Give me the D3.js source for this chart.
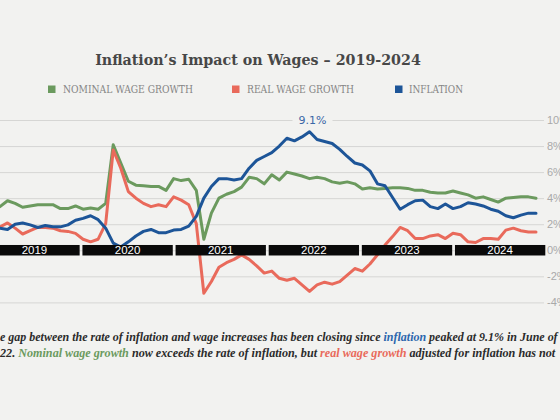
<!DOCTYPE html>
<html><head><meta charset="utf-8">
<script src="https://cdn.jsdelivr.net/npm/d3@7"></script>
<style>html,body{margin:0;padding:0;background:#f2f2f0;overflow:hidden}svg{display:block}</style>
</head><body>
<svg id="chart" width="560" height="420"></svg>
<script>
// ---- data (monthly, Jan 2019 – Dec 2024, percent y/y) ----
const years = ["2019", "2020", "2021", "2022", "2023", "2024"];
const nominalWage = [
  3.35, 3.8, 3.6, 3.3, 3.4, 3.5, 3.5, 3.5, 3.2, 3.2, 3.4, 3.15,
  3.25, 3.15, 3.6, 8.1, 6.7, 5.3, 5.0, 4.95, 4.9, 4.9, 4.6, 5.5,
  5.35, 5.45, 4.6, 0.85, 2.85, 4.0, 4.3, 4.5, 4.85, 5.6, 5.5, 5.1,
  5.8, 5.4, 6.0, 5.85, 5.7, 5.5, 5.6, 5.5, 5.25, 5.15, 5.25, 5.1,
  4.7, 4.8, 4.7, 4.75, 4.8, 4.8, 4.75, 4.6, 4.6, 4.45, 4.4, 4.4,
  4.55, 4.4, 4.25, 4.0, 4.1, 3.9, 3.7, 4.0, 4.05, 4.1, 4.1, 4.0
];
const realWage = [
  1.8, 2.1, 1.7, 1.25, 1.5, 1.75, 1.75, 1.7, 1.5, 1.45, 1.3, 0.85,
  0.65, 0.85, 2.05, 7.7, 6.3, 4.5, 4.0, 3.6, 3.35, 3.5, 3.35, 4.1,
  3.85, 3.5, 2.05, -3.3, -2.4, -1.3, -0.95, -0.7, -0.35, -0.7, -1.2, -1.75,
  -1.6, -2.15, -2.3, -2.15, -2.65, -3.15, -2.65, -2.45, -2.6, -2.4, -1.9, -1.4,
  -1.6, -1.05, -0.35, 0.4, 1.05, 1.75, 1.5, 0.9, 0.9, 1.1, 1.2, 0.9,
  1.3, 1.2, 0.65, 0.6, 0.9, 0.9, 0.85, 1.55, 1.7, 1.5, 1.4, 1.4
];
const inflation = [
  1.7, 1.6, 2.0, 2.1, 1.95, 1.75, 1.9, 1.8, 1.8, 1.95, 2.3, 2.45,
  2.65, 2.35, 1.7, 0.55, 0.25, 0.65, 1.1, 1.45, 1.6, 1.35, 1.35, 1.55,
  1.6, 1.85, 2.6, 4.0, 4.9, 5.5, 5.5, 5.4, 5.5, 6.3, 6.9, 7.2,
  7.5, 8.0, 8.6, 8.4, 8.7, 9.1, 8.5, 8.35, 8.2, 7.75, 7.2, 6.7,
  6.55, 6.1, 5.1, 4.95, 4.05, 3.15, 3.5, 3.8, 3.85, 3.35, 3.2, 3.55,
  3.2, 3.35, 3.65, 3.55, 3.4, 3.15, 3.0, 2.65, 2.5, 2.7, 2.85, 2.85
];
const yTicks = [-4, -2, 2, 4, 6, 8, 10];
const peakLabel = "9.1%";
const seriesNames = ["NOMINAL WAGE GROWTH", "REAL WAGE GROWTH", "INFLATION"];
const titleText = "Inflation\u2019s Impact on Wages \u2013 2019-2024";

const C = {green: "#6b9a5e", red: "#e96a5b", blue: "#1d5598", bg: "#f2f2f0"};
const svg = d3.select("#chart");
svg.append("rect").attr("width", 560).attr("height", 420).attr("fill", C.bg);

const x = d3.scaleLinear().domain([0, 71]).range([0, 536]);
const y = d3.scaleLinear().domain([-4, 10]).range([302.4, 120]);
const band = d3.scaleBand().domain(years).range([-10.7, 545.3]).paddingInner(0.03);

// fit helper
function fitFont(sel, target) {
  const w = sel.node().getComputedTextLength();
  const fs = parseFloat(sel.attr("font-size"));
  sel.attr("font-size", fs * target / w);
}

// title
const title = svg.append("text").attr("x", 258).attr("y", 65).attr("text-anchor", "middle")
  .attr("font-family", "DejaVu Serif").attr("font-weight", "bold").attr("font-size", 18)
  .attr("fill", "#474747").text(titleText);
fitFont(title, 326);

// legend
const legendPos = [{sx: 48, tx: 63, w: 130, c: C.green}, {sx: 232, tx: 247, w: 107, c: C.red}, {sx: 395, tx: 409, w: 54, c: C.blue}];
seriesNames.forEach((n, i) => {
  const p = legendPos[i];
  svg.append("rect").attr("x", p.sx).attr("y", 85.5).attr("width", 7.5).attr("height", 7.5).attr("fill", p.c);
  svg.append("text").attr("x", p.tx).attr("y", 93.3).attr("font-family", "DejaVu Serif Condensed")
    .attr("font-size", 11.5).attr("fill", "#858585").attr("textLength", p.w)
    .attr("lengthAdjust", "spacingAndGlyphs").text(n);
});

// grid + axis
const axis = d3.axisRight(y).tickValues(yTicks.concat([0])).tickSize(-544).tickPadding(3)
  .tickFormat(d => d + "%");
const gA = svg.append("g").attr("transform", "translate(544,0)").call(axis);
gA.select(".domain").remove();
gA.selectAll(".tick line").attr("stroke", "#d6d6d4").attr("stroke-width", 1);
gA.selectAll(".tick text").attr("fill", "#a9a9a9").attr("font-family", "Liberation Sans").attr("font-size", 11);

// lines
const line = d3.line().x((d, i) => x(i)).y(d => y(d)).curve(d3.curveLinear);
[[nominalWage, C.green], [realWage, C.red], [inflation, C.blue]].forEach(([data, c]) => {
  svg.append("path").datum(data).attr("d", line).attr("fill", "none").attr("stroke", c)
    .attr("stroke-width", 3).attr("stroke-linejoin", "round").attr("stroke-linecap", "round");
});

// year bands
const yb = svg.append("g");
years.forEach(yr => {
  yb.append("rect").attr("x", band(yr)).attr("y", y(0) - 5.3).attr("width", band.bandwidth())
    .attr("height", 10.5).attr("fill", "#0a0a0a");
  yb.append("text").attr("x", band(yr) + band.bandwidth() / 2).attr("y", y(0) + 4.2)
    .attr("text-anchor", "middle").attr("fill", "#fff").attr("font-family", "Liberation Sans")
    .attr("font-size", 11.5).text(yr);
});

// peak label
const peakIdx = inflation.indexOf(d3.max(inflation));
const px = x(peakIdx) + 3, py = y(10);
svg.append("rect").attr("x", px - 20).attr("y", py - 6).attr("width", 40).attr("height", 12).attr("fill", C.bg);
svg.append("text").attr("x", px).attr("y", py + 4).attr("text-anchor", "middle")
  .attr("font-family", "DejaVu Sans").attr("font-size", 11).attr("fill", "#3a67a6").text(peakLabel);

// caption
const capLines = [
  {pre: "Th", parts: [["e gap between the rate of inflation and wage increases has been closing since ", "#2b2b2b"], ["inflation", "#2c66ad"], [" peaked at 9.1% in June of", "#2b2b2b"]], y: 340.7, w: 558},
  {pre: "20", parts: [["22. ", "#2b2b2b"], ["Nominal wage growth", C.green], [" now exceeds the rate of inflation, but ", "#2b2b2b"], ["real wage growth", C.red], [" adjusted for inflation has not", "#2b2b2b"]], y: 356.7, w: 556}
];
capLines.forEach(L => {
  const t = svg.append("text").attr("font-family", "Liberation Serif").attr("font-style", "italic")
    .attr("font-weight", "bold").attr("font-size", 13).attr("y", L.y);
  L.parts.forEach(([s, c]) => t.append("tspan").attr("fill", c).text(s));
  fitFont(t, L.w);
  const fs = t.attr("font-size");
  const m = svg.append("text").attr("font-family", "Liberation Serif").attr("font-style", "italic")
    .attr("font-weight", "bold").attr("font-size", fs).text(L.pre);
  const pw = m.node().getComputedTextLength();
  m.remove();
  t.selectAll("tspan").remove();
  t.append("tspan").attr("fill", "#2b2b2b").text(L.pre);
  L.parts.forEach(([s, c]) => t.append("tspan").attr("fill", c).text(s));
  t.attr("x", -pw);
});
</script>
</body></html>
